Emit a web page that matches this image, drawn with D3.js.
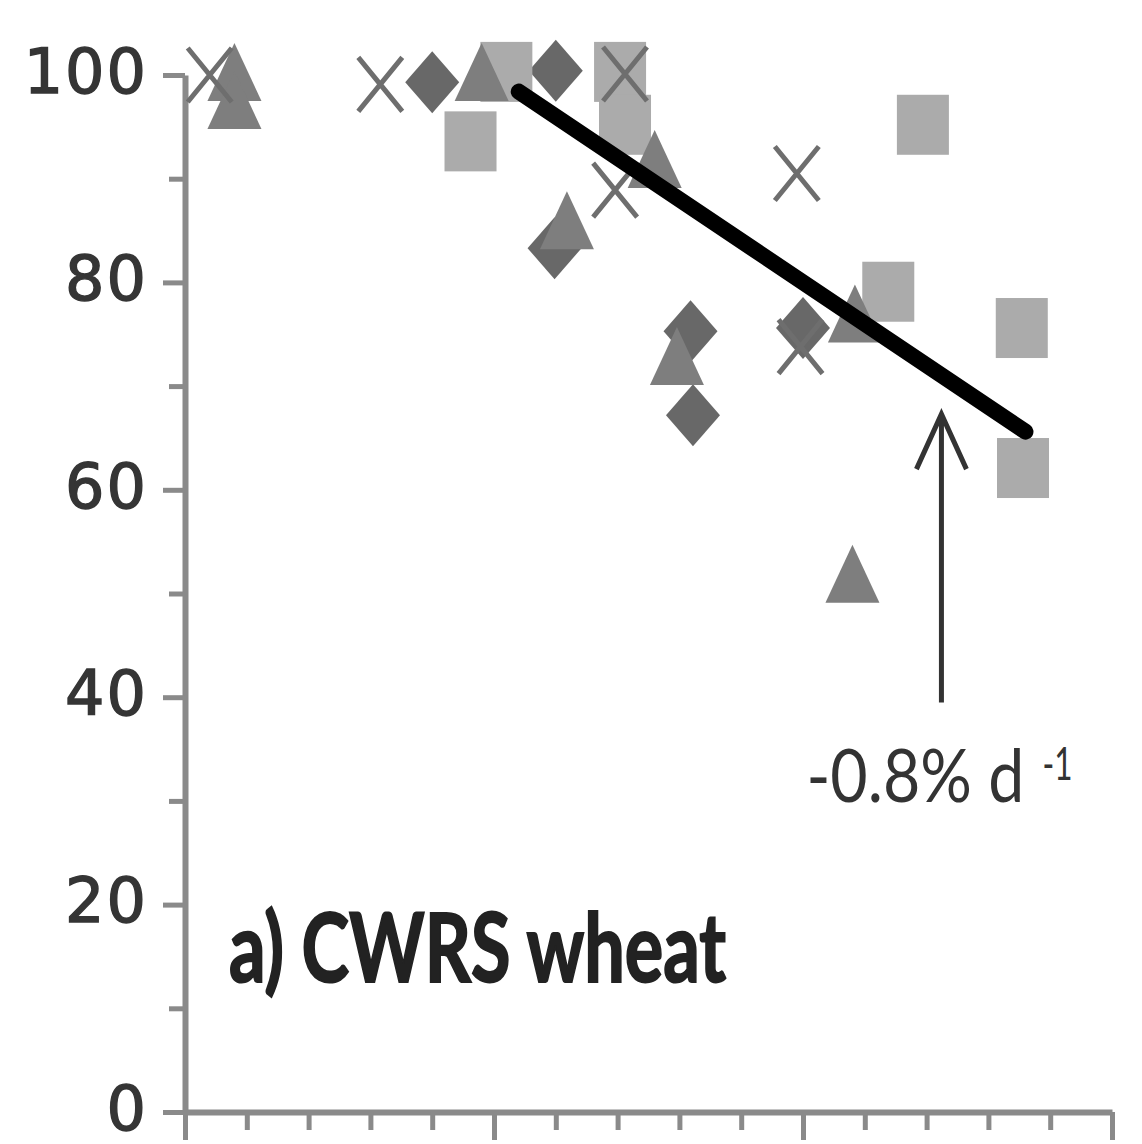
<!DOCTYPE html>
<html>
<head>
<meta charset="utf-8">
<script src="https://cdn.jsdelivr.net/npm/d3@7"></script>
<style>
  html, body { margin: 0; padding: 0; background: #fff; }
  svg { display: block; }
</style>
</head>
<body>
<svg id="chart" width="1142" height="1144"></svg>
<script>
// Retained proportion (%) against storage time (days), CWRS wheat

// Series: diamonds
const diamondDays   = [20, 30, 29.9, 40.9, 41.1, 50];
const diamondValues = [99.3, 100.4, 83.3, 75.3, 67.2, 75.6];

// Series: squares
const squareDays   = [23.1, 26, 35.2, 35.6, 56.9, 59.7, 67.7, 67.8];
const squareValues = [93.6, 100.3, 100.3, 95.2, 79.1, 95.2, 75.6, 62.1];

// Series: triangles
const triangleDays   = [4, 4, 24, 30.9, 38, 39.8, 54.2, 54];
const triangleValues = [100.3, 97.6, 100.3, 86.0, 91.9, 72.9, 77.0, 51.9];

// Series: crosses
const crossDays   = [2, 15.8, 35.6, 34.8, 49.5, 49.8];
const crossValues = [100, 99.1, 100.1, 88.9, 90.5, 73.8];

// Linear trend: start/end day, value at start, slope (% per day)
const trendDays = [27, 68];
const trendStartValue = 98.4;
const trendSlope = -0.8;

// Arrow pointing at the trend line
const arrowDay = 61.2;
const arrowValues = [39.5, 67.3];

// Axis ticks
const xMinorTicks = d3.range(0, 76, 5);
const xMajorTicks = [0, 25, 50, 75];
const yMajorTicks = [0, 20, 40, 60, 80, 100];
const yMinorTicks = [10, 30, 50, 70, 90];

const titleText = "a) CWRS wheat";
const rateText = "-0.8% d";
const rateSup = "-1";

const svg = d3.select("#chart");

const x = d3.scaleLinear().domain([0, 75]).range([185, 1112]);
const y = d3.scaleLinear().domain([0, 100]).range([1112, 75]);

const axisGray = "#8a8a8a";

// ---- axes ----
function styleAxis(g) {
  g.selectAll("path.domain").attr("stroke", axisGray).attr("stroke-width", 6);
  g.selectAll(".tick line").attr("stroke", axisGray).attr("stroke-width", 5);
}

// y minor ticks
svg.append("g")
  .attr("transform", `translate(${x(0)},0)`)
  .call(d3.axisLeft(y).tickValues(yMinorTicks).tickSize(16).tickSizeOuter(0).tickFormat(""))
  .call(styleAxis)
  .call(g => g.select("path.domain").remove());

// x minor ticks
svg.append("g")
  .attr("transform", `translate(0,${y(0)})`)
  .call(d3.axisBottom(x).tickValues(xMinorTicks).tickSize(18).tickSizeOuter(0).tickFormat(""))
  .call(styleAxis);

// x major ticks
svg.append("g")
  .attr("transform", `translate(0,${y(0)})`)
  .call(d3.axisBottom(x).tickValues(xMajorTicks).tickSize(28).tickSizeOuter(0).tickFormat(""))
  .call(styleAxis)
  .call(g => g.select("path.domain").remove());

// y major ticks with labels
const yAxisG = svg.append("g")
  .attr("transform", `translate(${x(0)},0)`)
  .call(d3.axisLeft(y).tickValues(yMajorTicks).tickSize(22).tickSizeOuter(0).tickPadding(15).tickFormat(d3.format("d")))
  .call(styleAxis);

yAxisG.selectAll(".tick text")
  .attr("font-family", "'DejaVu Sans', sans-serif")
  .attr("font-size", 62)
  .attr("letter-spacing", 2)
  .attr("fill", "#353535")
  .attr("stroke", "#353535")
  .attr("stroke-width", 1.4)
  .attr("dy", "0.28em");

// ---- markers ----
const diamondColor = "#686868";
const squareColor = "#ababab";
const triangleColor = "#7e7e7e";
const crossColor = "#6e6e6e";

const gMarks = svg.append("g");

// diamonds
gMarks.selectAll("path.diamond")
  .data(d3.zip(diamondDays, diamondValues))
  .join("path")
  .attr("class", "diamond")
  .attr("d", ([d, v]) => {
    const cx = x(d), cy = y(v), hw = 27, hh = 31;
    return `M${cx},${cy - hh}L${cx + hw},${cy}L${cx},${cy + hh}L${cx - hw},${cy}Z`;
  })
  .attr("fill", diamondColor);

// squares
gMarks.selectAll("rect.square")
  .data(d3.zip(squareDays, squareValues))
  .join("rect")
  .attr("class", "square")
  .attr("x", ([d]) => x(d) - 26)
  .attr("y", ([, v]) => y(v) - 30)
  .attr("width", 52)
  .attr("height", 60)
  .attr("fill", squareColor);

// triangles
gMarks.selectAll("path.triangle")
  .data(d3.zip(triangleDays, triangleValues))
  .join("path")
  .attr("class", "triangle")
  .attr("d", ([d, v]) => {
    const cx = x(d), cy = y(v), hw = 27, hh = 29;
    return `M${cx},${cy - hh}L${cx + hw},${cy + hh}L${cx - hw},${cy + hh}Z`;
  })
  .attr("fill", triangleColor);

// crosses
gMarks.selectAll("path.cross")
  .data(d3.zip(crossDays, crossValues))
  .join("path")
  .attr("class", "cross")
  .attr("d", ([d, v]) => {
    const cx = x(d), cy = y(v), hw = 22, hh = 27;
    return `M${cx - hw},${cy - hh}L${cx + hw},${cy + hh}M${cx - hw},${cy + hh}L${cx + hw},${cy - hh}`;
  })
  .attr("fill", "none")
  .attr("stroke", crossColor)
  .attr("stroke-width", 5);

// ---- trend line ----
const trendPoints = trendDays.map(d => [d, trendStartValue + trendSlope * (d - trendDays[0])]);
svg.append("path")
  .datum(trendPoints)
  .attr("d", d3.line().x(p => x(p[0])).y(p => y(p[1])))
  .attr("fill", "none")
  .attr("stroke", "#000")
  .attr("stroke-width", 16)
  .attr("stroke-linecap", "round");

// ---- arrow and rate label ----
const ax = x(arrowDay);
const aTop = y(arrowValues[1]);
const aBot = y(arrowValues[0]);
svg.append("path")
  .attr("d", `M${ax},${aBot}L${ax},${aTop}M${ax - 25},${aTop + 55}L${ax},${aTop}L${ax + 25},${aTop + 55}`)
  .attr("fill", "none")
  .attr("stroke", "#333")
  .attr("stroke-width", 5)
  .attr("stroke-linejoin", "miter");

const rate = svg.append("text")
  .attr("x", ax - 135)
  .attr("y", aBot + 100)
  .attr("font-family", "Lato, sans-serif")
  .attr("fill", "#333");

rate.append("tspan")
  .attr("font-size", 74)
  .attr("textLength", 218)
  .attr("lengthAdjust", "spacingAndGlyphs")
  .text(rateText);

rate.append("tspan")
  .attr("dx", 18)
  .attr("dy", -22)
  .attr("font-size", 46)
  .attr("textLength", 30)
  .attr("lengthAdjust", "spacingAndGlyphs")
  .text(rateSup);

// ---- panel title ----
svg.append("text")
  .attr("x", x(0) + 44)
  .attr("y", y(12.5))
  .attr("font-family", "Lato, sans-serif")
  .attr("font-weight", "bold")
  .attr("font-size", 96)
  .attr("fill", "#222")
  .attr("stroke", "#222")
  .attr("stroke-width", 2)
  .attr("textLength", 497)
  .attr("lengthAdjust", "spacingAndGlyphs")
  .text(titleText);
</script>
</body>
</html>
